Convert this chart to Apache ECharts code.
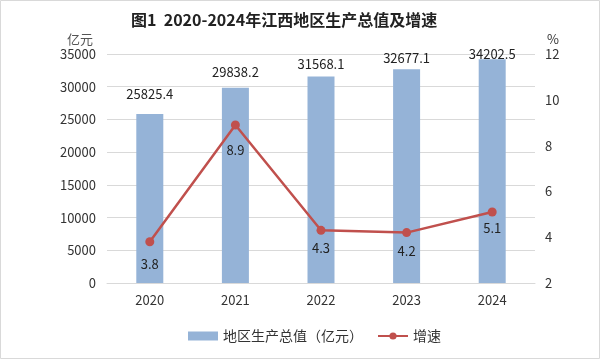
<!DOCTYPE html>
<html><head><meta charset="utf-8">
<script src="https://cdn.jsdelivr.net/npm/echarts@6/dist/echarts.min.js"></script>
<style>html,body{margin:0;padding:0;background:#fff}#c{width:600px;height:361px}</style>
</head><body><div id="c"></div>
<script>
const categories = ['2020','2021','2022','2023','2024'];
const gdpValues = [25825.4, 29838.2, 31568.1, 32677.1, 34202.5];
const growthValues = [3.8, 8.9, 4.3, 4.2, 5.1];
const leftTicks = {min:0, max:35000, interval:5000};
const rightTicks = {min:2, max:12, interval:2};

// label placement styling (not data)
const barLabelGap = [13, 9, 6, 5, -1];
const lineLabelGap = [11, 14, 7, 7, 5];

const font = '"Noto Sans CJK SC", "Noto Sans", sans-serif';
const chart = echarts.init(document.getElementById('c'));
chart.setOption({
  animation:false,
  title:{text:'图1  2020-2024年江西地区生产总值及增速', left:126, top:7,
    textStyle:{fontSize:16, fontWeight:'bold', color:'#222', fontFamily:font}},
  graphic:[{type:'rect', shape:{x:0.5,y:0.5,width:599,height:358}, style:{fill:'none', stroke:'#d9d9d9', lineWidth:1}}],
  grid:{left:107, right:65, top:54, bottom:78},
  legend:{bottom:13, left:183, itemGap:14, itemWidth:30, itemHeight:9,
    textStyle:{fontSize:14, color:'#333', fontFamily:font},
    data:[{name:'地区生产总值（亿元）', icon:'rect'}, {name:'增速'}]},
  xAxis:{type:'category', data:categories, axisTick:{show:false},
    axisLine:{lineStyle:{color:'#d9d9d9'}},
    axisLabel:{fontSize:13, color:'#333', margin:11, fontFamily:font}},
  yAxis:[
    {type:'value', min:leftTicks.min, max:leftTicks.max, interval:leftTicks.interval,
     name:'亿元', nameLocation:'end', nameGap:8, nameTextStyle:{fontSize:13, color:'#555', align:'right', padding:[0,14,0,0], fontFamily:font},
     axisLabel:{fontSize:13, color:'#333', margin:11, fontFamily:font, formatter:v=>String(v)},
     splitLine:{lineStyle:{color:'#d9d9d9'}}},
    {type:'value', min:rightTicks.min, max:rightTicks.max, interval:rightTicks.interval,
     name:'%', nameLocation:'end', nameGap:8, nameTextStyle:{fontSize:13, color:'#333', align:'left', padding:[0,0,0,12], fontFamily:font},
     axisLabel:{fontSize:13, color:'#333', margin:10, fontFamily:font},
     splitLine:{show:false}, axisLine:{show:false}, axisTick:{show:false}}
  ],
  series:[
    {name:'地区生产总值（亿元）', type:'bar', barWidth:27,
     data:gdpValues.map((v,i)=>({value:v, label:{distance:barLabelGap[i]}})),
     itemStyle:{color:'#95B3D7'},
     label:{show:true, position:'top', fontSize:13, color:'#222', fontFamily:font,
       formatter:p=>p.value.toFixed(1)}},
    {name:'增速', type:'line', yAxisIndex:1, symbol:'circle', symbolSize:9,
     data:growthValues.map((v,i)=>({value:v, label:{distance:lineLabelGap[i]}})),
     lineStyle:{color:'#C0504D', width:2.5}, itemStyle:{color:'#C0504D'},
     label:{show:true, position:'bottom', fontSize:13, color:'#222', fontFamily:font,
       formatter:p=>p.value.toFixed(1)}}
  ]
});
</script></body></html>
